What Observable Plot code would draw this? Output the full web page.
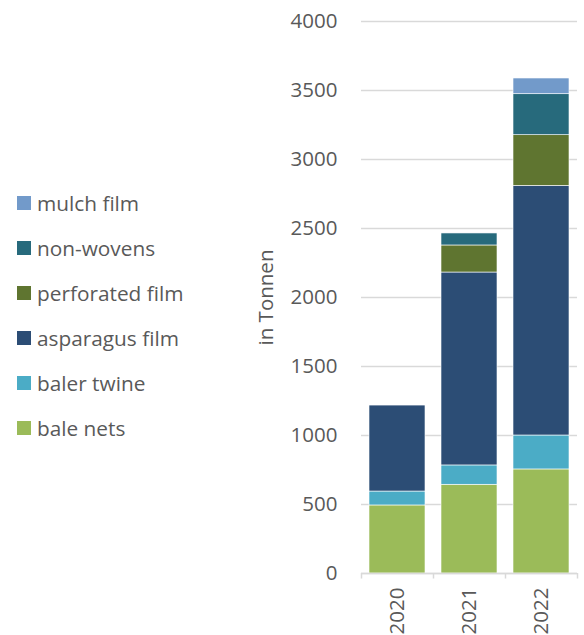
<!DOCTYPE html>
<html><head><meta charset="utf-8">
<script src="https://cdn.jsdelivr.net/npm/d3@7"></script>
<script src="https://cdn.jsdelivr.net/npm/@observablehq/plot@0.6"></script>
<style>
body{margin:0;background:#fff;font-family:"Open Sans",sans-serif;}
#wrap{position:relative;width:584px;height:635px;overflow:hidden;background:#fff;}
#legend{position:absolute;left:0;top:0;}
.lg{position:absolute;left:17px;display:flex;align-items:center;white-space:nowrap;font-size:20.8px;color:#595959;height:20px;}
.sw{width:14px;height:14px;margin-right:6px;flex:none;}
</style></head><body><div id="wrap"><div id="legend"></div></div>
<script>
const years = ["2020", "2021", "2022"];
const series = ["bale nets", "baler twine", "asparagus film", "perforated film", "non-wovens", "mulch film"];
const colors = ["#9BBB59", "#4BACC6", "#2C4D75", "#5F7530", "#276A7C", "#729ACA"];
const baleNets = [493, 643, 754];
const balerTwine = [101, 140, 246];
const asparagusFilm = [623, 1398, 1809];
const perforatedFilm = [0, 196, 367];
const nonWovens = [0, 87, 297];
const mulchFilm = [0, 0, 114];
const yTicks = [0, 500, 1000, 1500, 2000, 2500, 3000, 3500, 4000];
const yLabel = "in Tonnen";

const valuesBySeries = [baleNets, balerTwine, asparagusFilm, perforatedFilm, nonWovens, mulchFilm];
const rows = [];
series.forEach((s, i) => years.forEach((y, j) => rows.push({year: y, series: s, value: valuesBySeries[i][j]})));

const W = 584, H = 635, ML = 361, MR = 7, MT = 21, MB = 62;
const step = (W - ML - MR) / years.length;
const grey = "#d9d9d9", txt = "#595959";

const chart = Plot.plot({
  width: W, height: H,
  marginLeft: ML, marginRight: MR, marginTop: MT, marginBottom: MB,
  style: {fontFamily: "'Open Sans', sans-serif", fontSize: "20px", color: txt, background: "transparent", overflow: "visible"},
  x: {domain: years, paddingInner: 0.226, paddingOuter: 0.113, axis: null},
  y: {domain: [0, 4000], axis: null},
  color: {domain: series, range: colors},
  marks: [
    Plot.gridY(yTicks, {stroke: grey, strokeOpacity: 1, strokeWidth: 1.5}),
    Plot.barY(rows, {x: "year", y: "value", fill: "series", stroke: "#ffffff", strokeWidth: 0.6}),
    Plot.ruleY([0], {stroke: grey, strokeWidth: 1.5}),
    Plot.ruleX(years, {x: d => d, y1: 0, y2: -40, dx: -step / 2, stroke: grey, strokeWidth: 1.5}),
    Plot.ruleX(years.slice(-1), {x: d => d, y1: 0, y2: -40, dx: step / 2, stroke: grey, strokeWidth: 1.5}),
    Plot.axisY(yTicks, {tickSize: 0, tickPadding: 24, fontSize: 20.5, fill: txt, tickFormat: d => String(d), label: yLabel, labelAnchor: "center", labelOffset: 103, labelArrow: "none"}),
    Plot.axisX({tickSize: 0, tickPadding: 14, tickRotate: -90, fontSize: 20.5, fill: txt, label: null})
  ]
});
document.getElementById("wrap").appendChild(chart);
chart.style.position = "absolute"; chart.style.left = "0"; chart.style.top = "0";

const legend = document.getElementById("legend");
series.slice().reverse().forEach((s, i) => {
  const row = document.createElement("div");
  row.className = "lg";
  row.style.top = (193 + 45 * i) + "px";
  const sw = document.createElement("div");
  sw.className = "sw";
  sw.style.background = colors[series.indexOf(s)];
  const t = document.createElement("span");
  t.textContent = s;
  row.appendChild(sw); row.appendChild(t);
  legend.appendChild(row);
});
</script></body></html>
